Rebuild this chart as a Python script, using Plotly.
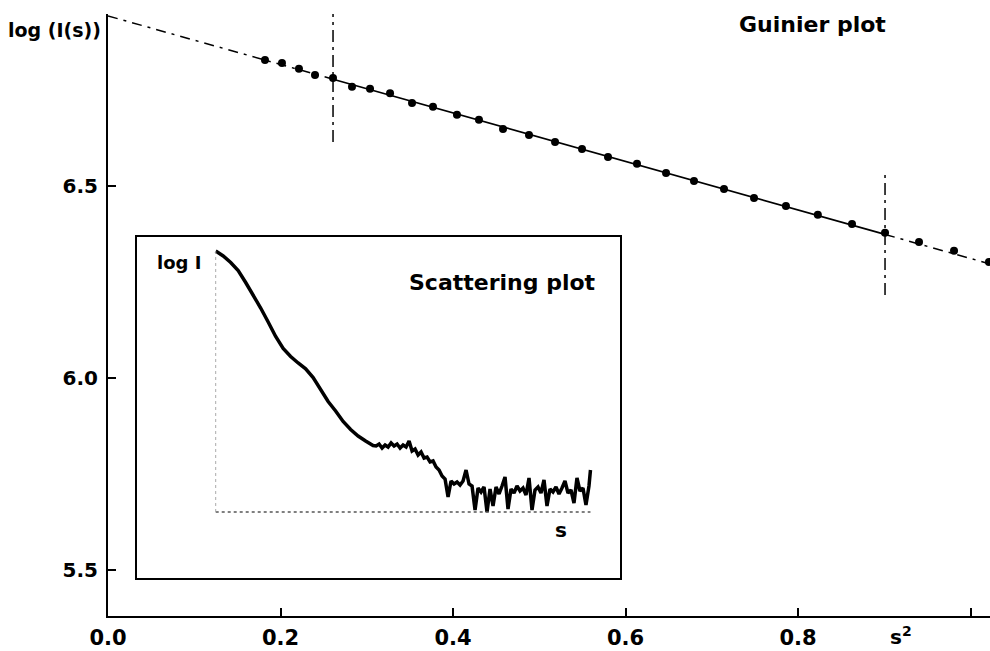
import plotly.graph_objects as go

# ---------------- data ----------------
# Guinier plot: s^2 vs log(I(s))
guinier_s2 = [0.182, 0.2017, 0.2214, 0.240, 0.2609, 0.2829, 0.3038, 0.327, 0.3525,
              0.3768, 0.4046, 0.4301, 0.458, 0.4881, 0.5183, 0.5496, 0.5797, 0.6133,
              0.647, 0.6794, 0.7142, 0.749, 0.786, 0.823, 0.8626, 0.9009, 0.9403,
              0.9809, 1.0214]
guinier_logI = [6.830, 6.822, 6.807, 6.791, 6.783, 6.760, 6.755, 6.743, 6.718,
                6.708, 6.687, 6.674, 6.650, 6.634, 6.616, 6.598, 6.577, 6.559,
                6.535, 6.514, 6.493, 6.470, 6.449, 6.426, 6.402, 6.379, 6.355,
                6.332, 6.303]
fit_intercept = 6.945
fit_slope = -0.633
fit_range = [0.2609, 0.9009]          # s^2 limits of the fitted region
fit_marker_ylo = [6.616, 6.217]       # lower ends of the range markers
fit_marker_yhi = [6.950, 6.540]       # upper ends of the range markers

x_tickvals = [0.0, 0.2, 0.4, 0.6, 0.8]
x_ticktext = ["0.0", "0.2", "0.4", "0.6", "0.8"]
x_unlabeled_ticks = [1.0]
y_tickvals = [5.5, 6.0, 6.5]
y_ticktext = ["5.5", "6.0", "6.5"]

# Inset: scattering curve s vs log I
inset_s = [0.000, 0.010, 0.020, 0.030, 0.040, 0.050, 0.060, 0.070, 0.080, 0.090,
           0.100, 0.110, 0.120, 0.130, 0.140, 0.150, 0.160, 0.170, 0.180, 0.190,
           0.200, 0.210,
           0.214, 0.218, 0.222, 0.226, 0.230, 0.234, 0.238, 0.242, 0.246, 0.250,
           0.254, 0.258, 0.262, 0.266, 0.270, 0.274, 0.278, 0.282, 0.286, 0.290,
           0.294, 0.298, 0.302, 0.306, 0.310, 0.314, 0.318, 0.322, 0.326, 0.330,
           0.334, 0.338, 0.342, 0.346, 0.350, 0.354, 0.358, 0.362, 0.366, 0.370,
           0.374, 0.378, 0.382, 0.386, 0.390, 0.394, 0.398, 0.402, 0.406, 0.410,
           0.414, 0.418, 0.422, 0.426, 0.430, 0.434, 0.438, 0.442, 0.446, 0.450,
           0.454, 0.458, 0.462, 0.466, 0.470, 0.474, 0.478, 0.482, 0.486, 0.490,
           0.494, 0.498, 0.500]
inset_logI = [2.61, 2.56, 2.495, 2.415, 2.295, 2.17, 2.04, 1.90, 1.755, 1.635,
              1.555, 1.49, 1.432, 1.345, 1.225, 1.105, 1.01, 0.905, 0.825, 0.76,
              0.71, 0.665,
              0.66, 0.68, 0.64, 0.67, 0.65, 0.69, 0.66, 0.68, 0.64, 0.67,
              0.65, 0.71, 0.61, 0.63, 0.57, 0.60, 0.54, 0.55, 0.50, 0.51,
              0.45, 0.42, 0.36, 0.33, 0.15, 0.31, 0.28, 0.30, 0.27, 0.31,
              0.42, 0.28, 0.26, 0.02, 0.24, 0.20, 0.25, 0.00, 0.23, 0.06,
              0.25, 0.18, 0.26, 0.35, 0.03, 0.23, 0.19, 0.26, 0.21, 0.24,
              0.17, 0.34, 0.02, 0.22, 0.25, 0.19, 0.32, 0.06, 0.23, 0.20,
              0.25, 0.18, 0.24, 0.31, 0.19, 0.22, 0.09, 0.34, 0.21, 0.24,
              0.07, 0.26, 0.42]
inset_s_end = 0.500
inset_logI_top = 2.62

FONT = "DejaVu Sans"

# ---------------- figure ----------------
fig = go.Figure()

def fit(x):
    return fit_intercept + fit_slope * x

x0, x1 = 0.0, 1.0226
seg_left = [x0, fit_range[0]]
seg_mid = [fit_range[0], fit_range[1]]
seg_right = [fit_range[1], x1]
dashdot = "10px,6px,3px,6px"

fig.add_trace(go.Scatter(x=seg_left, y=[fit(v) for v in seg_left], mode="lines",
                         line=dict(color="black", width=1.5, dash=dashdot)))
fig.add_trace(go.Scatter(x=seg_mid, y=[fit(v) for v in seg_mid], mode="lines",
                         line=dict(color="black", width=1.7)))
fig.add_trace(go.Scatter(x=seg_right, y=[fit(v) for v in seg_right], mode="lines",
                         line=dict(color="black", width=1.5, dash=dashdot)))
for xv, ylo, yhi in zip(fit_range, fit_marker_ylo, fit_marker_yhi):
    fig.add_trace(go.Scatter(x=[xv, xv], y=[ylo, yhi], mode="lines",
                             line=dict(color="black", width=1.5, dash="12px,5px,3px,5px")))
fig.add_trace(go.Scatter(x=guinier_s2, y=guinier_logI, mode="markers",
                         marker=dict(color="black", size=8)))

# inset curve
fig.add_trace(go.Scatter(x=inset_s, y=inset_logI, mode="lines", xaxis="x2", yaxis="y2",
                         line=dict(color="black", width=3.5)))
# inset inner axes (dotted)
fig.add_trace(go.Scatter(x=[0, inset_s_end], y=[0, 0], mode="lines", xaxis="x2", yaxis="y2",
                         line=dict(color="#555555", width=1.5, dash="dot")))
fig.add_trace(go.Scatter(x=[0, 0], y=[0, inset_logI_top], mode="lines", xaxis="x2", yaxis="y2",
                         line=dict(color="#aaaaaa", width=1, dash="dot")))

W, H = 990, 651
ml, mr, mt, mb = 108, 0, 14, 35
pw, ph = W - ml - mr, H - mt - mb

def px(xp):
    return (xp - ml) / pw

def py(yp):
    return (H - mb - yp) / ph

ytickfont = dict(family=FONT, size=20, color="black", weight="bold")
xtickfont = dict(family=FONT, size=21, color="black", weight="bold")

fig.update_layout(
    width=W, height=H,
    margin=dict(l=ml, r=mr, t=mt, b=mb, pad=0),
    plot_bgcolor="white", paper_bgcolor="white",
    showlegend=False,
    font=dict(family=FONT, size=20, color="black"),
    xaxis=dict(range=[x0, x1], tickvals=x_tickvals, ticktext=x_ticktext,
               showgrid=False, zeroline=False, showline=True, linecolor="black",
               linewidth=2, ticks="inside", ticklen=8, tickwidth=2, tickcolor="black",
               ticklabelstandoff=2, tickfont=xtickfont,
               minor=dict(tickvals=x_unlabeled_ticks, ticks="inside", ticklen=8,
                          tickwidth=2, tickcolor="black", showgrid=False)),
    yaxis=dict(range=[5.379, 6.950], tickvals=y_tickvals, ticktext=y_ticktext,
               showgrid=False, zeroline=False, showline=True, linecolor="black",
               linewidth=2, ticks="inside", ticklen=8, tickwidth=2, tickcolor="black",
               ticklabelstandoff=4, tickfont=ytickfont),
    xaxis2=dict(domain=[px(137), px(620)], anchor="y2", range=[-0.105, 0.5394],
                showgrid=False, zeroline=False, showline=True, mirror=True,
                linecolor="black", linewidth=2, showticklabels=False, ticks=""),
    yaxis2=dict(domain=[py(578), py(237)], anchor="x2", range=[-0.66, 2.75],
                showgrid=False, zeroline=False, showline=True, mirror=True,
                linecolor="black", linewidth=2, showticklabels=False, ticks=""),
)

ann = [
    dict(text="log (I(s))", x=px(103), y=py(30), xanchor="right", yanchor="middle", size=19),
    dict(text="Guinier plot", x=px(888), y=py(25), xanchor="right", yanchor="middle", size=22),
    dict(text="Scattering plot", x=px(598), y=py(282), xanchor="right", yanchor="middle", size=22),
    dict(text="log I", x=px(203), y=py(262), xanchor="right", yanchor="middle", size=18),
    dict(text="s", x=px(561), y=py(530), xanchor="center", yanchor="middle", size=20),
    dict(text="s<sup>2</sup>", x=px(901), y=py(636), xanchor="center", yanchor="middle", size=20),
]
for a in ann:
    fig.add_annotation(text=a["text"], x=a["x"], y=a["y"], xref="paper", yref="paper",
                       xanchor=a["xanchor"], yanchor=a["yanchor"], showarrow=False,
                       font=dict(family=FONT, size=a["size"], color="black", weight="bold"))

fig.write_html("out.html")
